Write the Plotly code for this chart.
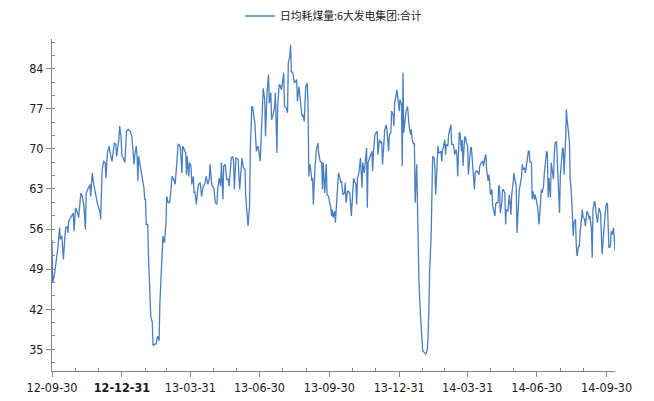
import pandas as pd
import plotly.graph_objects as go

SERIES_NAME = "日均耗煤量:6大发电集团:合计"
START = "2012-09-30"
END = "2014-10-11"

# days since 2012-09-30 and daily coal consumption (10k tons)
days_a = [0,1,3,5,7,8,10,11,13,14,15,17,18,20,21,22,24,26,28,29,31,33,35,36,38,40,42,44,45,47,
          50,51,53,55,57,58,60,63,64,66,68,70,71,73,75,77,79,82,84,85,87,88,89,91,92,94,96,98,100,103,
          105,107,108,109,111,112,113,114,116,117,119,121,122,123,124,126,127,128,130,132,
          133,135,137,139,141,142,144,146,148,150,151,153,155,157,158,160,162,164,166]
vals_a = [54,46.6,47.8,50.1,51.3,53.0,56.2,54.2,54.8,53.0,50.7,54.8,56.2,56.5,55.3,57.4,58.0,58.3,58.8,55.6,
          59.7,59.1,58.0,60.0,62.3,61.7,60.0,55.9,62.3,62.9,63.8,61.7,65.8,63.8,62.3,61.5,60.3,59.1,57.7,66.4,
          67.8,67.6,64.9,69.3,70.5,69.0,67.8,71.0,70.8,68.7,71.0,71.6,74.0,71.9,68.7,68.4,67.6,73.1,73.4,73.1,
          72.2,69.6,67.3,69.0,70.5,68.7,64.4,68.7,67.0,66.4,65.2,63.2,61.2,61.2,56.8,56.8,51.3,46.6,40.8,39.7,
          35.6,35.9,35.9,37.3,36.5,43.1,50.1,54.8,53.6,57.1,61.7,60.6,60.6,64.1,65.2,64.7,63.8,67.0,70.8]

days_b = [167,169,171,172,174,176,177,178,180,181,183,184,186,187,188,190,192,193,195,197,
          199,201,203,205,207,208,210,211,213,215,217,218,220,222,223,225,226,228,230,232,
          233,235,236,238,239,240,242,243,245,247,248,250,252,254,255,257,258,260,261,263,
          264,267,268,269,271,272,274,276,278,280,281,283,284,285,286,288,289,291,293,294,
          296,297,299,300,302,304,305,306,308,310,311,313,314,315,317,319,321,322,323,325,
          327,329,330,332,333,334,336,337,338,339,340,342,343,344,346,348,350,351]
vals_b = [70.8,70.2,65.8,70.5,69.9,69.3,65.5,68.7,65.2,67.6,67.0,63.8,65.2,62.3,62.6,60.3,63.2,63.8,64.1,61.7,
          63.5,63.8,65.2,63.8,64.7,67.3,64.1,63.5,63.2,60.6,60.3,62.9,64.9,63.5,67.6,61.2,67.0,67.3,64.7,64.7,
          63.5,67.0,68.4,68.7,67.8,62.9,68.4,68.4,68.1,62.9,64.7,68.4,66.7,66.4,61.7,57.1,56.5,60.0,69.9,77.4,
          77.4,74.5,70.5,69.6,70.5,69.9,67.8,73.4,80.6,78.6,72.2,79.8,81.5,83.0,78.0,79.8,75.1,76.0,77.4,79.8,
          69.3,77.4,81.2,81.2,80.3,83.0,83.3,77.4,77.2,76.3,85.0,86.2,88.2,83.5,83.3,81.5,81.8,82.1,78.3,80.9,
          78.3,75.7,76.0,74.8,78.0,80.9,81.5,77.4,65.2,67.3,67.0,64.4,64.9,60.3,66.4,69.9,71.0,69.3]

days_c = [353,355,356,357,359,361,362,364,365,367,368,369,370,372,373,375,377,379,380,381,
          383,385,386,387,389,390,392,394,396,397,398,400,401,402,404,406,408,409,411,412,
          414,415,416,418,419,421,422,423,425,426,428,429,431,433,434,435,437,438,440,441,
          443,444,446,447,449,450,451,452,454,456,457,458,460,461,462,463,464,465,466,468,
          469,470,472,473,474,476,477,478,480,481,482,483,485,487,488,490,492,494,495,496,
          497,499,500,501,503,504,505,506,508,509,510,512,513,514,515,517,518,519,521,522,
          524,525,526,528,529,530,532,533,534,536]
vals_c = [67.8,67.6,62.9,67.6,62.3,67.3,62.0,61.7,60.9,59.7,58.3,59.4,58.0,59.1,57.1,61.7,65.8,64.9,64.1,64.4,
          62.0,62.3,64.1,60.6,62.6,62.6,62.3,58.3,62.3,64.9,64.4,63.8,60.3,64.9,65.8,68.4,63.2,67.6,65.8,67.8,
          70.2,59.7,67.6,68.4,69.0,69.6,66.1,69.3,72.5,72.8,73.1,69.0,71.6,71.0,71.3,67.3,70.5,73.4,74.2,73.1,
          69.6,72.5,72.8,76.6,76.0,74.0,78.0,78.6,80.3,78.0,76.6,78.6,77.7,67.0,83.3,72.8,74.8,75.4,76.6,77.4,
          75.7,74.0,72.5,73.4,71.6,70.8,71.0,60.6,67.3,57.1,51.3,46.6,40.8,37.3,34.7,34.4,34.1,35.0,37.3,42.0,
          48.4,54.8,61.7,68.7,68.4,66.4,62.0,64.7,70.5,69.3,69.3,69.6,67.8,69.9,70.2,71.6,69.0,70.8,70.5,72.5,
          74.0,74.2,70.8,70.8,70.2,69.0,69.9,68.7,65.2,72.8]

days_d = [537,539,540,541,543,544,545,547,548,549,551,552,553,554,556,557,558,560,562,563,
          565,567,568,570,571,572,574,575,576,577,579,580,581,583,584,585,587,588,589,590,
          592,593,594,596,597,598,600,601,602,604,605,607,608,609,611,612,614,615,616,618,
          619,620,622,623,624,626,627,628,629,631,632,633,635,636,637,639,640,641,643,644,
          645,647,648,649,651,652,653,654,656,657,658,660,661,662,664,665,666,668,669,670,
          672,673,674,676,677,678,679,681,682,683,685,686,687,689,690,691,693,694,695,697,
          698,699,701,702,703,704,706,707,708,710,711,712,714,715,716,718,719,720,722,723,
          724,726,727,728,729,731,732,733,735,736,737,739,740,741]
vals_d = [72.8,69.6,71.6,67.0,71.9,72.2,71.3,70.5,65.5,67.0,70.2,70.2,68.7,67.0,62.9,65.8,66.1,66.1,65.5,67.0,
          67.6,67.8,67.0,68.7,69.0,66.4,64.4,65.5,64.4,62.0,62.9,60.0,59.4,58.3,60.3,60.6,60.6,63.5,63.5,58.8,
          60.6,62.9,62.9,62.3,56.8,59.4,59.1,61.7,62.0,58.5,62.0,64.1,65.8,64.9,63.5,55.3,62.3,62.9,63.5,65.2,
          67.3,66.4,66.7,65.8,66.7,69.3,69.6,69.6,67.8,67.6,61.2,62.6,61.2,62.0,61.5,60.0,58.5,56.8,60.6,62.9,
          62.3,63.5,65.8,67.6,69.6,69.3,61.5,64.9,61.5,67.6,66.4,64.7,68.7,71.0,71.3,68.4,67.0,58.8,65.2,67.6,
          70.2,69.9,65.5,71.6,76.9,75.1,73.4,71.3,64.7,63.5,58.3,54.8,57.1,57.7,53.3,51.3,53.0,53.0,55.3,59.1,
          59.4,58.0,57.7,56.5,57.7,59.1,58.5,57.7,58.3,55.9,51.0,59.4,60.9,60.3,58.8,57.1,58.5,59.7,58.8,54.8,
          51.6,55.3,57.1,57.7,60.0,60.6,57.1,52.7,53.0,55.6,55.0,56.2,54.5,52.2]

y_ticks = [35, 42, 49, 56, 63, 70, 77, 84]

days = days_a + days_b + days_c + days_d
vals = vals_a + vals_b + vals_c + vals_d
assert len(days) == len(vals)
dates = pd.Timestamp(START) + pd.to_timedelta(days, unit="D")

# month-end ticks: majors every quarter, minors every month
month_ends = pd.date_range("2012-10-01", "2014-10-01", freq="MS") - pd.Timedelta(days=1)
major = list(month_ends[::3])
major_text = [d.strftime("%y-%m-%d") for d in major]
major_text = [("<b>%s</b>" % t) if t == "12-12-31" else t for t in major_text]
minor = [d for i, d in enumerate(month_ends) if i % 3 != 0]

tick_font = dict(family="DejaVu Sans Condensed, sans-serif", size=12.5, color="#1a1a1a")
axis_col = "#868686"

fig = go.Figure()
fig.add_trace(go.Scatter(x=dates, y=vals, mode="lines", name=SERIES_NAME,
                         line=dict(color="#4A7EC2", width=1.3)))

# the page body adds an 8px offset; margins compensate for it
fig.update_layout(
    width=654, height=401,
    margin=dict(l=44, r=46.6, t=31, b=37.6, autoexpand=False),
    paper_bgcolor="white", plot_bgcolor="white",
    showlegend=True,
    legend=dict(orientation="h", x=0.5, xanchor="center", yref="container", y=0.98,
                yanchor="middle", font=dict(family="Noto Sans CJK SC", size=10.8, color="#1a1a1a"),
                bgcolor="rgba(0,0,0,0)"),
    xaxis=dict(type="date", range=[START, END], showgrid=False, zeroline=False, automargin=False,
               showline=True, linecolor=axis_col, linewidth=1,
               tickmode="array", tickvals=major, ticktext=major_text,
               ticks="outside", ticklen=5, tickcolor=axis_col, tickfont=tick_font,
               minor=dict(tickmode="array", tickvals=minor, ticks="inside", ticklen=3,
                          tickcolor=axis_col, showgrid=False)),
    yaxis=dict(range=[31.2, 89.2], showgrid=False, zeroline=False, automargin=False,
               showline=True, linecolor=axis_col, linewidth=1,
               tickmode="array", tickvals=y_ticks, ticktext=[str(v) for v in y_ticks],
               ticks="outside", ticklen=5, tickcolor=axis_col, tickfont=tick_font,
               minor=dict(tick0=35, dtick=7/3, ticks="inside", ticklen=3,
                          tickcolor=axis_col, showgrid=False)),
)

fig.write_html("out.html")
